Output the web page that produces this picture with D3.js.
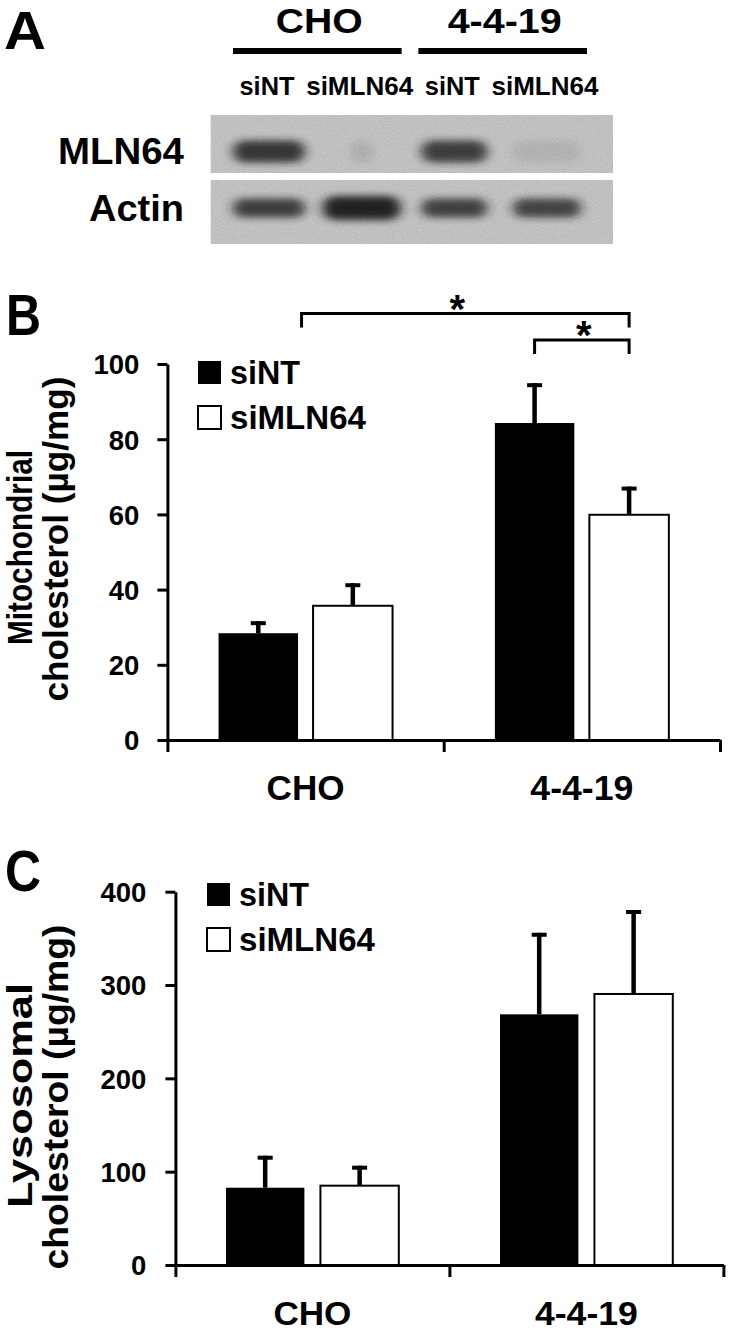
<!DOCTYPE html>
<html><head><meta charset="utf-8">
<script src="https://cdn.jsdelivr.net/npm/d3@7"></script>
<style>
html,body{margin:0;padding:0;background:#fff;}
svg text{font-family:"Liberation Sans",Arial,Helvetica,sans-serif;font-weight:bold;fill:#000;}
</style></head>
<body>
<svg id="fig" width="730" height="1333"></svg>
<script>
// ---------- DATA ----------
const blotGroups = ["CHO", "4-4-19"];
const blotLanes = ["siNT", "siMLN64", "siNT", "siMLN64"];
const mln64Band = [0.84, 0.16, 0.80, 0.08];
const actinBand = [0.80, 0.95, 0.78, 0.74];

const categories = ["CHO", "4-4-19"];
const series = ["siNT", "siMLN64"];
const mitoSiNT = [28.4, 84.3];
const mitoSiNTErr = [3.2, 10.6];
const mitoSiMLN64 = [35.7, 59.9];
const mitoSiMLN64Err = [6.0, 7.5];
const mitoTicks = [0, 20, 40, 60, 80, 100];
const lysoSiNT = [82.8, 268.6];
const lysoSiNTErr = [34.3, 87.4];
const lysoSiMLN64 = [85.0, 290.4];
const lysoSiMLN64Err = [21.4, 90.0];
const lysoTicks = [0, 100, 200, 300, 400];
const sigLevels = [113.4, 106.4];

const svg = d3.select("#fig");

// ---------- PANEL A : blot ----------
const defs = svg.append("defs");
defs.append("filter").attr("id","blur").attr("x","-50%").attr("y","-80%").attr("width","200%").attr("height","260%")
  .append("feGaussianBlur").attr("stdDeviation","6 3.5");
const grain = defs.append("filter").attr("id","grain")
  .attr("x","0").attr("y","0").attr("width","1").attr("height","1");
grain.append("feTurbulence").attr("type","fractalNoise").attr("baseFrequency","0.8").attr("numOctaves","2").attr("seed","3");
grain.append("feColorMatrix").attr("type","matrix").attr("values","0 0 0 0 0  0 0 0 0 0  0 0 0 0 0  0 0 0 0.5 0");

const laneX = d3.scalePoint().domain(d3.range(4)).range([267, 545]);
const blotX0 = 210.5, blotX1 = 613;
const rows = [
  {name:"MLN64", y0:115, y1:173, cy:151.5, h:22, vals: mln64Band, label:{x:184, y:164, len:126}},
  {name:"Actin", y0:180, y1:244, cy:208, h:19, vals: actinBand, label:{x:184, y:221, len:95}}
];
const laneW = [72, 78, 66, 68];
rows.forEach((r,ri) => {
  const clipId = "clip"+ri;
  defs.append("clipPath").attr("id",clipId).append("rect")
    .attr("x",blotX0).attr("y",r.y0).attr("width",blotX1-blotX0).attr("height",r.y1-r.y0);
  const panel = svg.append("g").attr("clip-path",`url(#${clipId})`);
  panel.append("rect").attr("x",blotX0).attr("y",r.y0).attr("width",blotX1-blotX0).attr("height",r.y1-r.y0)
    .attr("fill","#d0d0d0");
  const g = panel.append("g").attr("filter","url(#blur)");
  r.vals.forEach((v,i) => {
    const w = (r.name==="MLN64" && i===1) ? 16 : laneW[i];
    const h = (r.name==="Actin" && i===1) ? 24 : r.h;
    g.append("rect").attr("x",laneX(i)-w/2+2).attr("y",r.cy-h/2).attr("width",w).attr("height",h)
      .attr("rx",h/2).attr("fill","#1e1e1e").attr("opacity",v);
  });
  panel.append("rect").attr("x",blotX0).attr("y",r.y0).attr("width",blotX1-blotX0).attr("height",r.y1-r.y0)
    .attr("filter","url(#grain)").attr("opacity",0.3);
  svg.append("text").attr("x",r.label.x).attr("y",r.label.y).attr("text-anchor","end")
    .attr("font-size",36).attr("textLength",r.label.len).attr("lengthAdjust","spacingAndGlyphs").text(r.name);
});
// lane labels
svg.selectAll("text.lane").data(blotLanes).enter().append("text").attr("class","lane")
  .attr("x",(d,i)=>laneX(i)).attr("y",95).attr("text-anchor","middle").attr("font-size",25)
  .attr("textLength",d=> d==="siNT"?55:107).attr("lengthAdjust","spacingAndGlyphs").text(d=>d);
// group headers
blotGroups.forEach((gname,k) => {
  const xa = laneX(2*k)-34, xb = laneX(2*k+1)+42;
  svg.append("line").attr("x1",xa).attr("x2",xb).attr("y1",51).attr("y2",51).attr("stroke","#000").attr("stroke-width",6);
  svg.append("text").attr("x",(xa+xb)/2+2).attr("y",33).attr("text-anchor","middle").attr("font-size",35)
    .attr("textLength", gname==="CHO"?87:114).attr("lengthAdjust","spacingAndGlyphs").text(gname);
});
// panel letters
function panelLetter(t,x,y,fs,len){
  svg.append("text").attr("x",x).attr("y",y).attr("font-size",fs).attr("textLength",len)
    .attr("lengthAdjust","spacingAndGlyphs").text(t);
}
panelLetter("A",4,48.5,53,42);
panelLetter("B",6,335,58,35);
panelLetter("C",5,891,58,36);

// ---------- generic bar chart ----------
function barChart(o){
  const y = d3.scaleLinear().domain(o.domain).range([o.y0, o.y1]);
  const x = d3.scaleBand().domain(categories).range([o.x0, o.x1]).paddingInner(0).paddingOuter(0);
  const groupW = o.groupW;
  const xs = d3.scaleBand().domain(series).range([(x.bandwidth()-groupW)/2, (x.bandwidth()+groupW)/2]).paddingInner(o.pad);
  const vals = {siNT:o.siNT, siMLN64:o.siMLN64};
  const errs = {siNT:o.siNTErr, siMLN64:o.siMLN64Err};
  const data = [];
  categories.forEach((c,i)=> series.forEach(s => data.push({c, s, v:vals[s][i], e:errs[s][i]})));
  const g = svg.append("g");
  const cx = d => x(d.c)+xs(d.s)+xs.bandwidth()/2;
  // error bars
  g.selectAll("line.err").data(data).enter().append("line")
    .attr("x1",cx).attr("x2",cx)
    .attr("y1",d=>y(d.v)).attr("y2",d=>y(d.v+d.e)).attr("stroke","#000").attr("stroke-width",4.5);
  g.selectAll("line.cap").data(data).enter().append("line")
    .attr("x1",d=>cx(d)-7.5).attr("x2",d=>cx(d)+7.5)
    .attr("y1",d=>y(d.v+d.e)+2).attr("y2",d=>y(d.v+d.e)+2).attr("stroke","#000").attr("stroke-width",4);
  // bars
  g.selectAll("rect.bar").data(data).enter().append("rect")
    .attr("x",d=>x(d.c)+xs(d.s)).attr("width",xs.bandwidth())
    .attr("y",d=>y(d.v)).attr("height",d=>y(0)-y(d.v))
    .attr("fill",d=>d.s==="siNT"?"#000":"#fff").attr("stroke","#000").attr("stroke-width",d=>d.s==="siNT"?0:2);
  // y axis
  const ya = g.append("g").attr("transform",`translate(${o.x0},0)`)
    .call(d3.axisLeft(y).tickValues(o.ticks).tickSize(10).tickSizeOuter(0).tickPadding(o.tickPad).tickFormat(d3.format("d")));
  ya.select(".domain").attr("stroke-width",3);
  ya.selectAll(".tick line").attr("stroke-width",3);
  ya.selectAll(".tick text").attr("font-size",27.5).attr("font-family",null).attr("fill","#000").attr("dy","0.36em");
  // x axis
  const xl = d3.scaleLinear().domain([0,2]).range([o.x0,o.x1]);
  const xa = g.append("g").attr("transform",`translate(0,${o.y0})`)
    .call(d3.axisBottom(xl).tickValues([0,1,2]).tickSize(12).tickSizeOuter(0).tickFormat(""));
  xa.select(".domain").attr("stroke-width",3);
  xa.selectAll(".tick line").attr("stroke-width",3);
  g.selectAll("text.cat").data(categories).enter().append("text")
    .attr("x",d=>x(d)+x.bandwidth()/2).attr("y",o.catY).attr("text-anchor","middle").attr("font-size",o.catFs)
    .attr("textLength",d=>d==="CHO"?78:103).attr("lengthAdjust","spacingAndGlyphs").text(d=>d);
  // legend
  series.forEach((s,i)=>{
    const ly = o.legY + i*45;
    g.append("rect").attr("x",o.legX).attr("y",ly-23).attr("width",23).attr("height",23)
      .attr("fill",s==="siNT"?"#000":"#fff").attr("stroke","#000").attr("stroke-width",s==="siNT"?0:2);
    g.append("text").attr("x",o.legX+32).attr("y",ly).attr("font-size",33)
      .attr("textLength",s==="siNT"?70:136).attr("lengthAdjust","spacingAndGlyphs").text(s);
  });
  // y title
  o.title.forEach(t=>{
    g.append("text").attr("transform",`translate(${t.x},${t.y}) rotate(-90)`).attr("text-anchor","middle")
      .attr("font-size",35).attr("textLength",t.len).attr("lengthAdjust","spacingAndGlyphs").text(t.text);
  });
  return {x, xs, y};
}

const B = barChart({
  domain:[0,100], y0:740, y1:364, x0:167.4, x1:720, groupW:174, pad:0.159,
  siNT:mitoSiNT, siNTErr:mitoSiNTErr, siMLN64:mitoSiMLN64, siMLN64Err:mitoSiMLN64Err,
  ticks:mitoTicks, tickPad:18, catY:800, catFs:35, legX:198, legY:384,
  title:[{text:"Mitochondrial", x:31.7, y:547.5, len:195},{text:"cholesterol (µg/mg)", x:68, y:539, len:325}]
});
const C = barChart({
  domain:[0,400], y0:1265, y1:891.7, x0:175.4, x1:723.4, groupW:172.8, pad:0.17,
  siNT:lysoSiNT, siNTErr:lysoSiNTErr, siMLN64:lysoSiMLN64, siMLN64Err:lysoSiMLN64Err,
  ticks:lysoTicks, tickPad:19, catY:1325, catFs:34, legX:207, legY:906,
  title:[{text:"Lysosomal", x:31.7, y:1095.5, len:225},{text:"cholesterol (µg/mg)", x:68, y:1097, len:345}]
});

// significance brackets (panel B)
const sig = [
  {a:()=>B.x("CHO")+B.x.bandwidth()/2-4, b:()=>B.x("4-4-19")+B.xs("siMLN64")+B.xs.bandwidth()/2, lvl:sigLevels[0], dx:-8},
  {a:()=>B.x("4-4-19")+B.xs("siNT")+B.xs.bandwidth()/2, b:()=>B.x("4-4-19")+B.xs("siMLN64")+B.xs.bandwidth()/2, lvl:sigLevels[1], dx:2}
];
sig.forEach((s,i)=>{
  const xa=s.a(), xb=s.b(), yy=B.y(s.lvl);
  svg.append("path").attr("d",`M${xa},${yy+14}V${yy}H${xb}V${yy+14}`).attr("fill","none")
    .attr("stroke","#000").attr("stroke-width",3);
  svg.append("text").attr("x",(xa+xb)/2 + s.dx).attr("y",yy+9).attr("text-anchor","middle")
    .attr("font-size",40).text("*");
});
</script>
</body></html>
